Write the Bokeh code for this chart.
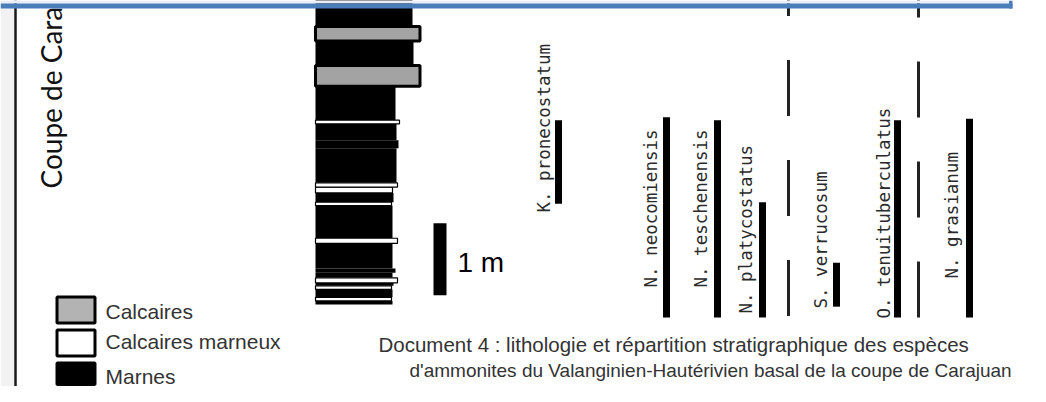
import math
from bokeh.plotting import figure
from bokeh.models import Range1d, ColumnDataSource
from bokeh.core.properties import value
from bokeh.embed import file_html
from bokeh.resources import INLINE

# ------------------------------------------------------------------ data
# Lithological column, beds from base upwards (heights in metres above section base)
bed_base_m = [0.00, 0.05, 0.10, 0.21, 0.26, 0.30, 0.37, 0.44, 0.50, 0.85, 0.92, 1.375,
              1.42, 1.55, 1.63, 1.69, 2.17, 2.28, 2.51, 2.56, 3.03, 3.32, 3.66, 3.86]
bed_top_m = [0.05, 0.10, 0.21, 0.26, 0.30, 0.37, 0.44, 0.50, 0.85, 0.92, 1.375, 1.42,
             1.55, 1.63, 1.69, 2.17, 2.28, 2.51, 2.56, 3.03, 3.32, 3.66, 3.86, 4.40]
# M = marnes, CM = calcaires marneux, C = calcaires
bed_lith = ["M", "CM", "M", "CM", "M", "CM", "M", "M", "M", "CM", "M", "CM",
            "M", "CM", "CM", "M", "M", "M", "CM", "M", "C", "M", "C", "M"]
# weathering relief (profile width of each bed)
bed_relief = [77, 76, 77, 76, 78, 82, 77, 80, 77, 82, 77, 76,
              78, 77, 82, 81, 83, 81, 84, 80, 104.5, 98, 104.5, 97]

# Ammonite species ranges (metres)
species = ["K. pronecostatum", "N. neocomiensis", "N. teschenensis", "N. platycostatus",
           "S. verrucosum", "O. tenuituberculatus", "N. grasianum"]
range_base_m = [1.40, -0.18, -0.18, -0.18, -0.03, -0.18, -0.18]
range_top_m = [2.56, 2.60, 2.56, 1.42, 0.58, 2.56, 2.58]

# dashed separators (metres)
dashed_base_m = [-0.16, -0.18]
dashed_top_m = [4.40, 4.40]

scale_bar_m = 1.0

legend_labels = ["Calcaires", "Calcaires marneux", "Marnes"]
legend_lith = ["C", "CM", "M"]
caption_lines = ["Document 4 : lithologie et répartition stratigraphique des espèces",
                 "d'ammonites du Valanginien-Hautérivien basal de la coupe de Carajuan"]
title_text = "Coupe de Cara"

# ------------------------------------------------------------------ layout
W, H = 1030, 386
PX_PER_M = 72.0
BASE_PX = 304.0          # page y of the section base
COL_LEFT = 315.0
SPECIES_X = [558, 666, 717, 762, 836, 897, 969]
LABEL_X = [543, 650, 700, 745, 820, 883, 951]
LABEL_START_PX = [212, 287, 287, 313, 308, 318, 278]
DASHED_X = [788, 918]
SCALE_X = 439.5
SCALE_BASE_M = 0.13

lith_fill = {"M": "black", "CM": "white", "C": "#a3a3a3"}
legend_fill = {"M": "black", "CM": "white", "C": "#b3b3b3"}

y_bot = (BASE_PX - H) / PX_PER_M
y_top = BASE_PX / PX_PER_M

p = figure(width=W, height=H, x_range=Range1d(0, W), y_range=Range1d(y_bot, y_top),
           output_backend="svg", toolbar_location=None, min_border=0,
           x_axis_location=None, y_axis_location=None,
           background_fill_color="white", border_fill_color="white")
p.grid.visible = False
p.outline_line_color = None
p.extra_y_ranges = {"px": Range1d(H, 0)}

# page frame
p.quad(left=[0], right=[13.5], top=[0], bottom=[H], y_range_name="px",
       fill_color="#f2f2f2", line_color=None)
p.segment(x0=[15], y0=[0], x1=[15], y1=[H], y_range_name="px",
          line_color="#1a1a1a", line_width=2.5)

# lithological column
def beds_of(code):
    idx = [i for i, l in enumerate(bed_lith) if l == code]
    return ColumnDataSource(dict(
        left=[COL_LEFT] * len(idx),
        right=[COL_LEFT + bed_relief[i] for i in idx],
        bottom=[bed_base_m[i] for i in idx],
        top=[bed_top_m[i] for i in idx]))

p.quad(left="left", right="right", bottom="bottom", top="top", source=beds_of("M"),
       fill_color="black", line_color=None)
p.quad(left="left", right="right", bottom="bottom", top="top", source=beds_of("CM"),
       fill_color="white", line_color="black", line_width=1.2)
p.quad(left="left", right="right", bottom="bottom", top="top", source=beds_of("C"),
       fill_color=lith_fill["C"], line_color="black", line_width=3)

# scale bar
p.vbar(x=[SCALE_X], width=13, bottom=[SCALE_BASE_M], top=[SCALE_BASE_M + scale_bar_m],
       fill_color="black", line_color=None)
p.text(x=[457], y=[262], text=[f"{scale_bar_m:g} m"], y_range_name="px",
       text_font=value("Liberation Sans"), text_font_size="28px",
       text_align="left", text_baseline="middle", text_color="black")

# species ranges
p.vbar(x=SPECIES_X, width=7, bottom=range_base_m, top=range_top_m,
       fill_color="black", line_color=None)
p.segment(x0=DASHED_X, y0=dashed_base_m, x1=DASHED_X, y1=dashed_top_m,
          line_color="#222222", line_width=3, line_dash="56 44")
p.text(x=LABEL_X, y=LABEL_START_PX, text=species, angle=math.pi / 2, y_range_name="px",
       text_font=value("DejaVu Sans Mono"), text_font_size="17.5px",
       text_align="left", text_baseline="middle", text_color="#2a2a2a")

# legend
p.quad(left=[56.5] * 3, right=[94.5] * 3, top=[296.5, 329.5, 362.5],
       bottom=[322.5, 355.5, 384.0], y_range_name="px",
       fill_color=[legend_fill[c] for c in legend_lith], line_color="black", line_width=3)
p.text(x=[105] * 3, y=[310.5, 340.5, 375.5], text=legend_labels, y_range_name="px",
       text_font=value("Liberation Sans"), text_font_size="21px",
       text_align="left", text_baseline="middle", text_color="#333333")

# caption
p.text(x=[378], y=[344], text=[caption_lines[0]], y_range_name="px",
       text_font=value("Liberation Sans"), text_font_size="20.5px",
       text_align="left", text_baseline="middle", text_color="#333333")
p.text(x=[409], y=[370], text=[caption_lines[1]], y_range_name="px",
       text_font=value("Liberation Sans"), text_font_size="19px",
       text_align="left", text_baseline="middle", text_color="#333333")

# vertical title
p.text(x=[50], y=[188], text=[title_text], angle=math.pi / 2, y_range_name="px",
       text_font=value("Lato"), text_font_size="28px",
       text_align="left", text_baseline="middle", text_color="#111111")

# blue text-box border at the top
p.quad(left=[0], right=[1012], top=[0], bottom=[3], y_range_name="px",
       fill_color="#e9eef6", line_color=None)
p.quad(left=[0], right=[1012], top=[3], bottom=[8], y_range_name="px",
       fill_color="#4a7ebb", line_color=None)
p.quad(left=[1008.5], right=[1012], top=[0], bottom=[8], y_range_name="px",
       fill_color="#4a7ebb", line_color=None)

open("out.html", "w").write(file_html(p, INLINE))
